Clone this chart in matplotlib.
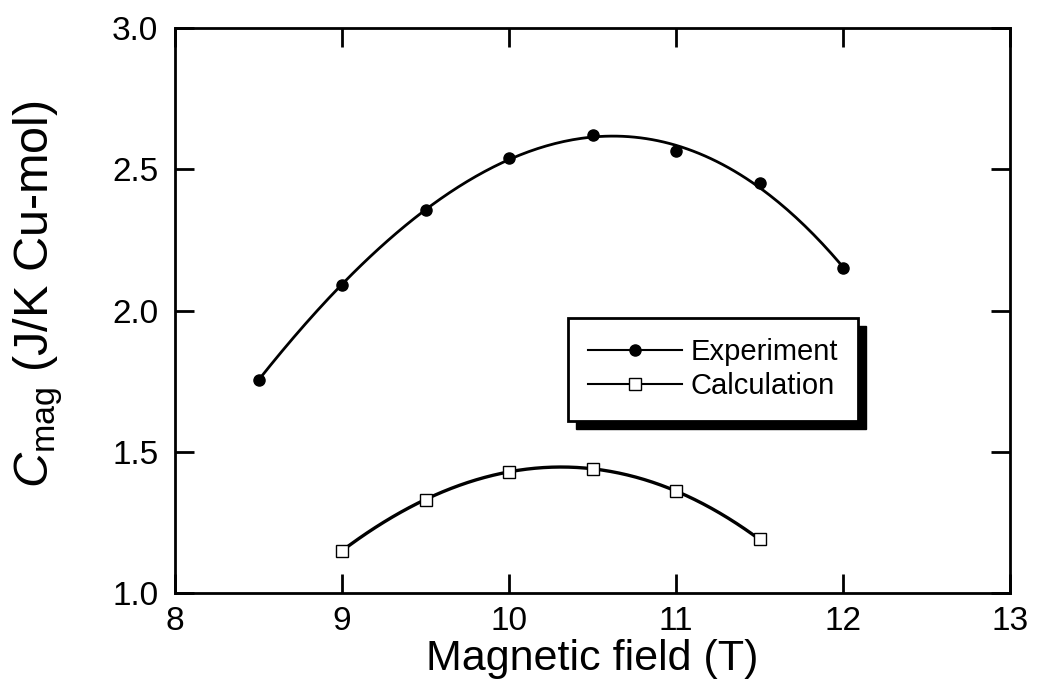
import numpy as np
import matplotlib
matplotlib.use("Agg")
import matplotlib.pyplot as plt
from matplotlib.lines import Line2D
from matplotlib.patches import Rectangle

plt.rcParams['font.family'] = ['Liberation Sans', 'DejaVu Sans']
plt.rcParams['mathtext.fontset'] = 'custom'
plt.rcParams['mathtext.rm'] = 'Liberation Sans'
plt.rcParams['mathtext.it'] = 'Liberation Sans:italic'

# Data
field_exp = [8.5, 9.0, 9.5, 10.0, 10.5, 11.0, 11.5, 12.0]
c_exp = [1.755, 2.09, 2.355, 2.54, 2.62, 2.565, 2.45, 2.15]
field_calc = [9.0, 9.5, 10.0, 10.5, 11.0, 11.5]
c_calc = [1.15, 1.33, 1.43, 1.44, 1.36, 1.19]
x_ticks = [8, 9, 10, 11, 12, 13]
y_ticks = [1.0, 1.5, 2.0, 2.5, 3.0]

fig = plt.figure(figsize=(10.37, 6.98), dpi=100)
ax = fig.add_axes([0.1688, 0.1504, 0.8052, 0.8095])

# smooth fitted curves derived from the data
pe = np.polyfit(field_exp, c_exp, 3)
xe = np.linspace(min(field_exp), max(field_exp), 200)
ax.plot(xe, np.polyval(pe, xe), color='black', lw=2.0, zorder=2)
pc = np.polyfit(field_calc, c_calc, 3)
xc = np.linspace(min(field_calc), max(field_calc), 200)
ax.plot(xc, np.polyval(pc, xc), color='black', lw=2.4, zorder=2)

ax.plot(field_exp, c_exp, 'o', color='black', ms=8, zorder=3)
ax.plot(field_calc, c_calc, 's', mfc='white', mec='black', mew=1.0, ms=8, zorder=3)

ax.set_xlim(8, 13)
ax.set_ylim(1.0, 3.0)
ax.set_xticks(x_ticks)
ax.set_xticklabels([str(t) for t in x_ticks])
ax.set_yticks(y_ticks)
ax.set_yticklabels(['%.1f' % t for t in y_ticks])
for s in ax.spines.values():
    s.set_linewidth(2.0)
ax.tick_params(direction='in', length=14, width=2.0, top=True, right=True,
               labelsize=24)
ax.tick_params(axis='x', pad=9)
ax.tick_params(axis='y', pad=12)

ax.set_xlabel('Magnetic field (T)', fontsize=31, va='top')
ax.xaxis.set_label_coords(0.5, -0.082)
ax.set_ylabel(r'$C_{\mathrm{mag}}$ (J/K Cu-mol)', fontsize=35)
ax.yaxis.set_label_coords(-0.132, 0.53)

handles = [
    Line2D([], [], color='black', lw=1.5, marker='o', ms=8),
    Line2D([], [], color='black', lw=1.5, marker='s', ms=8, mfc='white', mec='black', mew=1.0),
]
leg = ax.legend(handles, ['Experiment', 'Calculation'], loc='upper left',
                bbox_to_anchor=((568 - 175) / 835, 1 - (318 - 28) / 565),
                frameon=True, fancybox=False, framealpha=1.0, fontsize=21,
                handlelength=3.2, handletextpad=0.3, borderpad=0.7,
                labelspacing=0.2, borderaxespad=0.0)
leg.get_frame().set_edgecolor('black')
leg.get_frame().set_facecolor('white')
leg.get_frame().set_linewidth(2.0)
leg.set_zorder(5)

fig.canvas.draw()
bb = leg.get_window_extent()
off = 8
shadow = Rectangle((bb.x0 + off, bb.y0 - off), bb.width, bb.height,
                   transform=None, facecolor='black', edgecolor='black', zorder=4)
ax.add_artist(shadow)

fig.savefig('out.png', dpi=100)
